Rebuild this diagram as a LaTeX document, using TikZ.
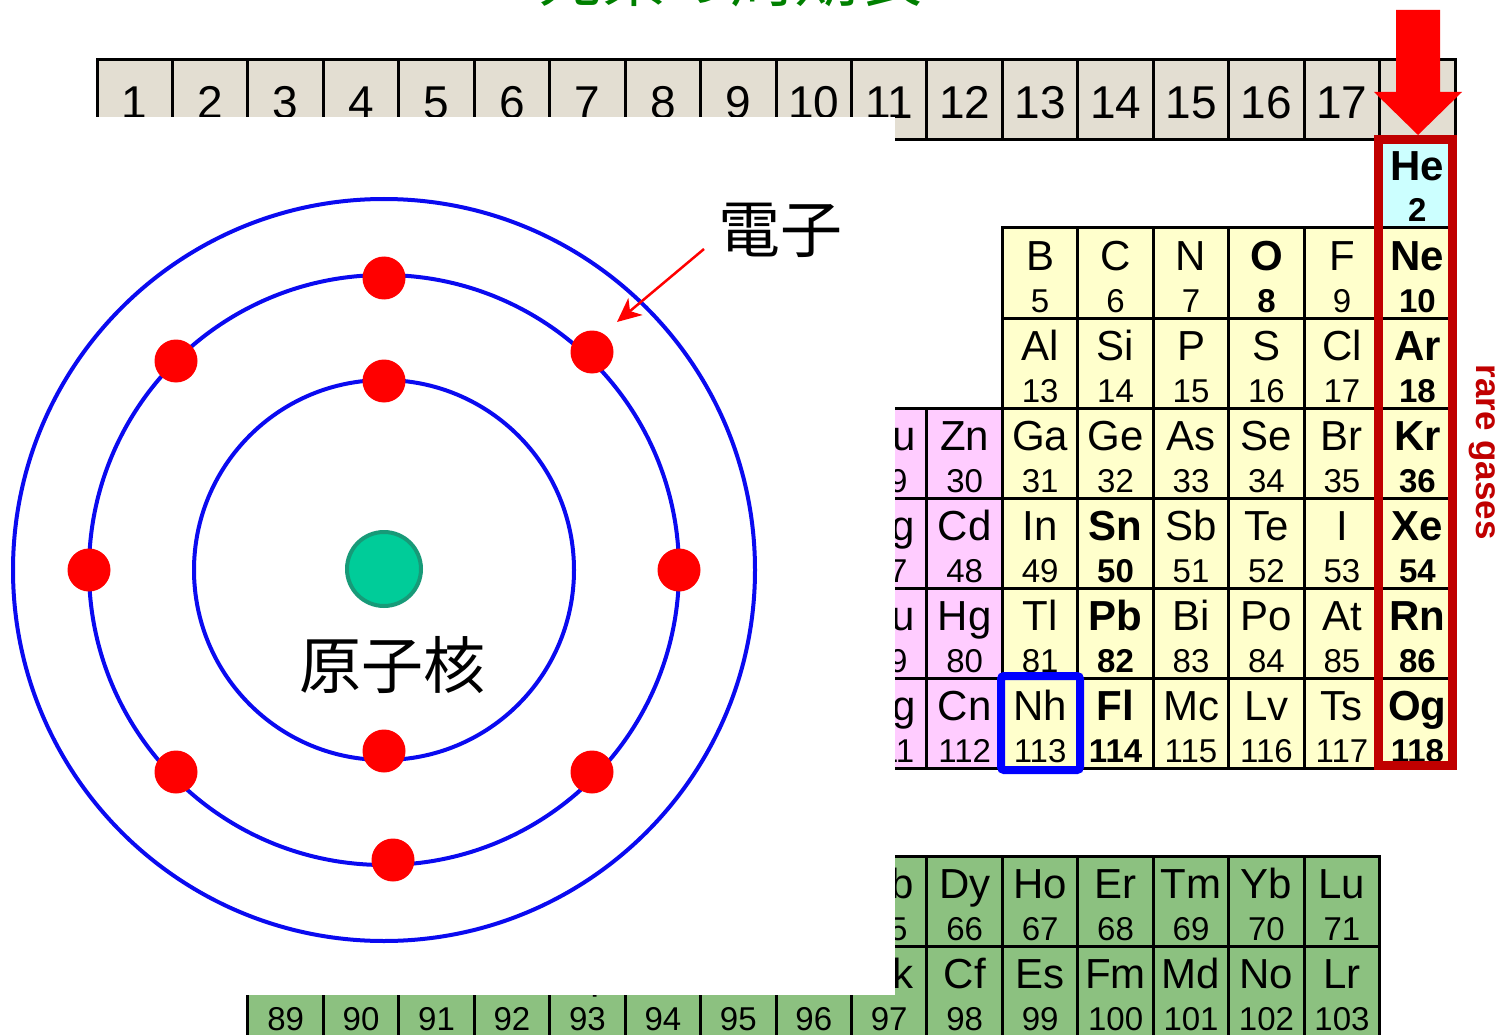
\documentclass[tikz,border=0pt]{standalone}
\usepackage{fontspec}
\setmainfont{Liberation Sans}
\newfontfamily\jpfont{Noto Sans CJK JP}
\usetikzlibrary{arrows.meta}

\definecolor{hdrbeige}{HTML}{E3DED2}
\definecolor{pblock}{HTML}{FFFFCC}
\definecolor{dblock}{HTML}{FFCCFF}
\definecolor{heblue}{HTML}{CCFFFF}
\definecolor{fblock}{HTML}{8CC180}
\definecolor{gasred}{HTML}{C00000}
\definecolor{orbitblue}{HTML}{0A0AF0}
\definecolor{nucfill}{HTML}{00CC99}
\definecolor{nucedge}{HTML}{179A78}
\definecolor{titlegreen}{HTML}{008000}

\tikzset{
  cellbox/.style={draw=black, line width=3pt, minimum width=75.45pt,
    minimum height=90pt, anchor=north west, inner sep=0pt, outer sep=0pt},
  hdrbox/.style={cellbox, minimum height=80pt, fill=hdrbeige},
  symtxt/.style={font=\fontsize{42}{42}\selectfont, inner sep=0pt, anchor=base},
  numtxt/.style={font=\fontsize{33}{33}\selectfont, inner sep=0pt, anchor=base},
  hdrtxt/.style={font=\fontsize{46}{46}\selectfont, inner sep=0pt, anchor=base},
  orbit/.style={draw=orbitblue, line width=4pt},
  electron/.style={circle, fill=red, minimum size=43pt, inner sep=0pt},
  jplabel/.style={font=\jpfont\fontsize{62}{62}\selectfont, inner sep=0pt},
}

% one element cell: column, top edge, fill, symbol, number, font switch
\newcommand\elem[6]{%
  \node[cellbox, fill=#3] (#4) at ({97+(#1-1)*75.45},#2) {};
  \node[symtxt] (#4-sym) at ({97+(#1-0.5)*75.45},{#2+42}) {#6#4};
  \node[numtxt] (#4-num) at ({97+(#1-0.5)*75.45},{#2+84}) {#6#5};
}

\begin{document}
\begin{tikzpicture}[x=1pt, y=-1pt]
\useasboundingbox (0,0) rectangle (1497,1035);

% title
\node[font=\jpfont\fontsize{64}{64}\selectfont, text=titlegreen, inner sep=0pt,
  anchor=base] (title) at (730,2) {元素の周期表};

% group numbers
\foreach \c in {1,...,18} {
  \node[hdrbox] (g\c) at ({97+(\c-1)*75.45},60) {};
}
\foreach \c in {1,...,17} {
  \node[hdrtxt] (g\c-txt) at ({97+(\c-0.5)*75.45},119) {\c};
}

% period 1
\node[cellbox, fill=heblue, minimum height=88pt] (He) at ({97+17*75.45},140) {};
\node[symtxt] (He-sym) at ({97+17.5*75.45},181) {\bfseries He};
\node[numtxt] (He-num) at ({97+17.5*75.45},222) {\bfseries 2};

% period 2
\elem{13}{228}{pblock}{B}{5}{\relax}
\elem{14}{228}{pblock}{C}{6}{\relax}
\elem{15}{228}{pblock}{N}{7}{\relax}
\elem{16}{228}{pblock}{O}{8}{\bfseries}
\elem{17}{228}{pblock}{F}{9}{\relax}
\elem{18}{228}{pblock}{Ne}{10}{\bfseries}
% period 3
\elem{13}{318}{pblock}{Al}{13}{\relax}
\elem{14}{318}{pblock}{Si}{14}{\relax}
\elem{15}{318}{pblock}{P}{15}{\relax}
\elem{16}{318}{pblock}{S}{16}{\relax}
\elem{17}{318}{pblock}{Cl}{17}{\relax}
\elem{18}{318}{pblock}{Ar}{18}{\bfseries}
% period 4
\elem{11}{408}{dblock}{Cu}{29}{\relax}
\elem{12}{408}{dblock}{Zn}{30}{\relax}
\elem{13}{408}{pblock}{Ga}{31}{\relax}
\elem{14}{408}{pblock}{Ge}{32}{\relax}
\elem{15}{408}{pblock}{As}{33}{\relax}
\elem{16}{408}{pblock}{Se}{34}{\relax}
\elem{17}{408}{pblock}{Br}{35}{\relax}
\elem{18}{408}{pblock}{Kr}{36}{\bfseries}
% period 5
\elem{11}{498}{dblock}{Ag}{47}{\relax}
\elem{12}{498}{dblock}{Cd}{48}{\relax}
\elem{13}{498}{pblock}{In}{49}{\relax}
\elem{14}{498}{pblock}{Sn}{50}{\bfseries}
\elem{15}{498}{pblock}{Sb}{51}{\relax}
\elem{16}{498}{pblock}{Te}{52}{\relax}
\elem{17}{498}{pblock}{I}{53}{\relax}
\elem{18}{498}{pblock}{Xe}{54}{\bfseries}
% period 6
\elem{11}{588}{dblock}{Au}{79}{\relax}
\elem{12}{588}{dblock}{Hg}{80}{\relax}
\elem{13}{588}{pblock}{Tl}{81}{\relax}
\elem{14}{588}{pblock}{Pb}{82}{\bfseries}
\elem{15}{588}{pblock}{Bi}{83}{\relax}
\elem{16}{588}{pblock}{Po}{84}{\relax}
\elem{17}{588}{pblock}{At}{85}{\relax}
\elem{18}{588}{pblock}{Rn}{86}{\bfseries}
% period 7
\elem{11}{678}{dblock}{Rg}{111}{\relax}
\elem{12}{678}{dblock}{Cn}{112}{\relax}
\elem{13}{678}{pblock}{Nh}{113}{\relax}
\elem{14}{678}{pblock}{Fl}{114}{\bfseries}
\elem{15}{678}{pblock}{Mc}{115}{\relax}
\elem{16}{678}{pblock}{Lv}{116}{\relax}
\elem{17}{678}{pblock}{Ts}{117}{\relax}
\elem{18}{678}{pblock}{Og}{118}{\bfseries}

% lanthanoids and actinoids
\foreach \c/\s/\n in {3/La/57,4/Ce/58,5/Pr/59,6/Nd/60,7/Pm/61,8/Sm/62,9/Eu/63,
  10/Gd/64,11/Tb/65,12/Dy/66,13/Ho/67,14/Er/68,15/Tm/69,16/Yb/70,17/Lu/71} {
  \elem{\c}{856}{fblock}{\s}{\n}{\relax}
}
\foreach \c/\s/\n in {3/Ac/89,4/Th/90,5/Pa/91,6/U/92,7/Np/93,8/Pu/94,9/Am/95,
  10/Cm/96,11/Bk/97,12/Cf/98,13/Es/99,14/Fm/100,15/Md/101,16/No/102,17/Lr/103} {
  \elem{\c}{946}{fblock}{\s}{\n}{\relax}
}

% white panel for the atom model
\fill[white] (0,117) rectangle (895,995);

% noble gas column and nihonium highlight
\draw[gasred, line width=9pt] (1378.5,139.5) rectangle (1452.5,765.5);
\draw[blue, line width=8pt, rounded corners=3pt] (1001,676) rectangle (1080,770);
\node[rotate=-90, text=gasred, inner sep=0pt,
  font=\bfseries\fontsize{35}{35}\selectfont] (raregases) at (1482,452) {rare gases};

% pointer arrow to group 18
\fill[red] (1396,10) -- (1440,10) -- (1440,92) -- (1462,92) -- (1418,135)
  -- (1374,92) -- (1396,92) -- cycle;

% atom model
\coordinate (center) at (384,570);
\draw[orbit] (center) circle[radius=190pt];
\draw[orbit] (center) circle[radius=295pt];
\draw[orbit] (center) circle[radius=371pt];

\node[circle, fill=nucfill, draw=nucedge, line width=4pt, minimum size=74pt,
  inner sep=0pt] (nucleus) at (384,569) {};

\node[electron] (e1) at (384,381) {};
\node[electron] (e2) at (384,751) {};
\node[electron] (e3) at (384,278) {};
\node[electron] (e4) at (176,361) {};
\node[electron] (e5) at (592,352) {};
\node[electron] (e6) at (89,570) {};
\node[electron] (e7) at (679,570) {};
\node[electron] (e8) at (176,772) {};
\node[electron] (e9) at (592,772) {};
\node[electron] (e10) at (393,860) {};

\node[jplabel] (nuclabel) at (392,665) {原子核};
\node[jplabel] (elabel) at (780,230) {電子};

\coordinate (ptrstart) at (704,249);
\coordinate (ptrend) at (617,322);
\draw[red, line width=2.5pt, -{Stealth[length=24pt, width=22pt, inset=7pt]}]
  (ptrstart) -- (ptrend);
\end{tikzpicture}
\end{document}
